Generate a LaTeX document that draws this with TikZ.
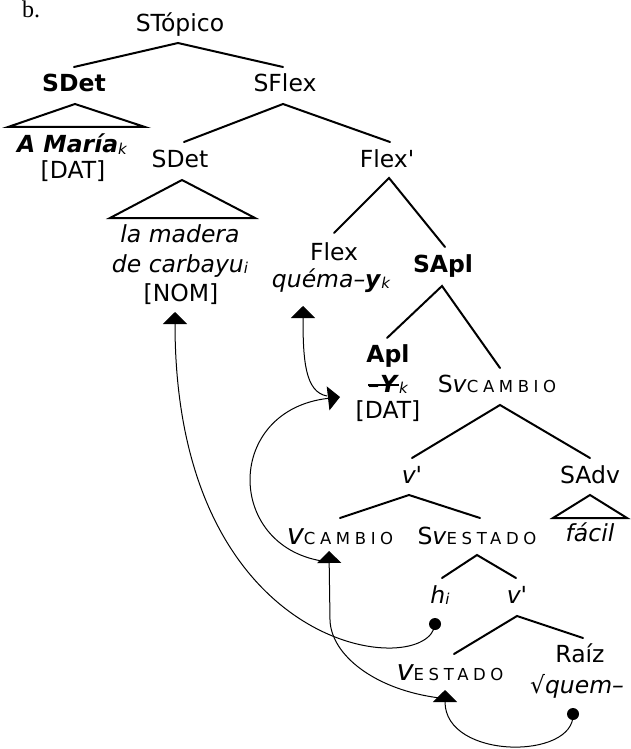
\documentclass[tikz,border=0pt]{standalone}
\usepackage{fontspec}
\setmainfont{DejaVu Sans}
\newfontfamily\serifb{Liberation Serif}
\newfontfamily\scf[LetterSpace=28]{DejaVu Sans}
\usetikzlibrary{arrows.meta}
\newcommand\msz{\fontsize{23.5}{27}\selectfont}
\newcommand\lo[1]{\raisebox{-1.5pt}{\fontsize{15}{15}\selectfont\itshape #1}}
\newcommand\capsub[1]{{\scf\fontsize{16.5}{16.5}\selectfont #1}}
\newcommand\bigv{{\fontsize{29}{29}\selectfont\itshape v}}
\newsavebox\strkbox
\newcommand\strk[1]{\sbox\strkbox{#1}\rlap{\usebox\strkbox}\raisebox{0.27em}{\rule{\wd\strkbox}{1.8pt}}}
\begin{document}
\begin{tikzpicture}[x=1pt,y=-1pt,
  t/.style={anchor=base,inner sep=0pt,font=\msz},
  tb/.style={anchor=base,inner sep=0pt,font=\msz\bfseries},
  ti/.style={anchor=base,inner sep=0pt,font=\msz\itshape},
  tl/.style={line width=2pt,line cap=round},
  ar/.style={line width=1pt,-{Triangle[width=24pt,length=12pt]}},
  dot/.style={circle,fill,inner sep=0pt,minimum size=12pt}]
\useasboundingbox (0,0) rectangle (630,749);
\fill[white] (0,0) rectangle (630,749);
% label
\node[anchor=base west,inner sep=0pt,font=\serifb\fontsize{24}{24}\selectfont] (lab) at (22,17.5) {b.};
% text nodes
\node[t] (top) at (180,32) {STópico};
\node[tb] (sdet1) at (74,92) {SDet};
\node[t] (sflex) at (285,92) {SFlex};
\node[t] (maria) at (72,153) {\textbf{\textit{A María}}\lo{k}};
\node[t] (dat1) at (73,178) {[DAT]};
\node[t] (sdet2) at (180,167) {SDet};
\node[t] (flexb) at (387,167) {Flex\textquotesingle};
\node[ti] (madera) at (180,242) {la madera};
\node[ti] (carb) at (180,272) {de carbayu\lo{i}};
\node[t] (nom) at (181,301) {[NOM]};
\node[t] (flex) at (334,260) {Flex};
\node[t] (quema) at (331,287) {\textit{quéma–}\textbf{\textit{y}}\lo{k}};
\node[tb] (sapl) at (443,272) {SApl};
\node[tb] (apl) at (388,362) {Apl};
\node[t] (yk) at (388,392) {\strk{\textbf{\textit{–Y}}}\lo{k}};
\node[t] (dat2) at (388,418) {[DAT]};
\node[t] (svc) at (497,392) {S\textit{v}\capsub{CAMBIO}};
\node[t] (vbar1) at (412,483) {\textit{v\textquotesingle}};
\node[t] (sadv) at (590,483) {SAdv};
\node[ti] (facil) at (590,541) {fácil};
\node[t] (vc) at (340,544) {\bigv\capsub{CAMBIO}};
\node[t] (sve) at (477,544) {S\textit{v}\capsub{ESTADO}};
\node[t] (h) at (440,603) {\textit{h}\lo{i}};
\node[t] (vbar2) at (517,603) {\textit{v\textquotesingle}};
\node[t] (raiz) at (580,662) {Raíz};
\node[t] (quem) at (577,693) {√\textit{quem–}};
\node[t] (ve) at (450,680) {\bigv\capsub{ESTADO}};
% tree coordinates
\coordinate (a1) at (178,43); \coordinate (a1l) at (74,67); \coordinate (a1r) at (283,67);
\coordinate (t1) at (75,104); \coordinate (t1l) at (8,127); \coordinate (t1r) at (145,127);
\coordinate (a2) at (283,104); \coordinate (a2l) at (184,142); \coordinate (a2r) at (390,142);
\coordinate (t2) at (182,180); \coordinate (t2l) at (110,218); \coordinate (t2r) at (255,218);
\coordinate (a3) at (389,178); \coordinate (a3l) at (334,233); \coordinate (a3r) at (445,247);
\coordinate (a4) at (442,286); \coordinate (a4l) at (387,338); \coordinate (a4r) at (500,368);
\coordinate (a5) at (500,405); \coordinate (a5l) at (412,458); \coordinate (a5r) at (590,458);
\coordinate (a6) at (409,495); \coordinate (a6l) at (340,518); \coordinate (a6r) at (480,518);
\coordinate (t3) at (590,495); \coordinate (t3l) at (553,518); \coordinate (t3r) at (627,518);
\coordinate (a7) at (477,555); \coordinate (a7l) at (442,578); \coordinate (a7r) at (516,578);
\coordinate (a8) at (517,616); \coordinate (a8l) at (454,654); \coordinate (a8r) at (583,638);
\draw[tl] (a1l) -- (a1) -- (a1r);
\draw[tl,line join=miter] (t1) -- (t1l) -- (t1r) -- cycle;
\draw[tl] (a2l) -- (a2) -- (a2r);
\draw[tl,line join=miter] (t2) -- (t2l) -- (t2r) -- cycle;
\draw[tl] (a3l) -- (a3) -- (a3r);
\draw[tl] (a4l) -- (a4) -- (a4r);
\draw[tl] (a5l) -- (a5) -- (a5r);
\draw[tl] (a6l) -- (a6) -- (a6r);
\draw[tl,line join=miter] (t3) -- (t3l) -- (t3r) -- cycle;
\draw[tl] (a7l) -- (a7) -- (a7r);
\draw[tl] (a8l) -- (a8) -- (a8r);
% movement arrows
\node[dot] (hdot) at (435,624) {};
\node[dot] (rdot) at (573,714) {};
\coordinate (nomtip) at (175,312);
\coordinate (flextip) at (303,306);
\coordinate (dattip) at (340,397);
\coordinate (datfoot) at (327,396);
\coordinate (vctip) at (329,551);
\coordinate (vcfoot) at (322,561);
\coordinate (vetip) at (445,690);
\coordinate (vefoot) at (440,698);
\draw[ar] (hdot.center) .. controls (430,680) and (175,660) .. (nomtip);
\draw[ar] (rdot.center) .. controls (575,760) and (445,760) .. (vetip);
\draw[ar] (vefoot) .. controls (375,690) and (331,655) .. (330,620) -- (vctip);
\draw[ar] (vcfoot) .. controls (225,545) and (225,410) .. (dattip);
\draw[ar] (datfoot) .. controls (305,392) and (303,360) .. (flextip);
\end{tikzpicture}
\end{document}
